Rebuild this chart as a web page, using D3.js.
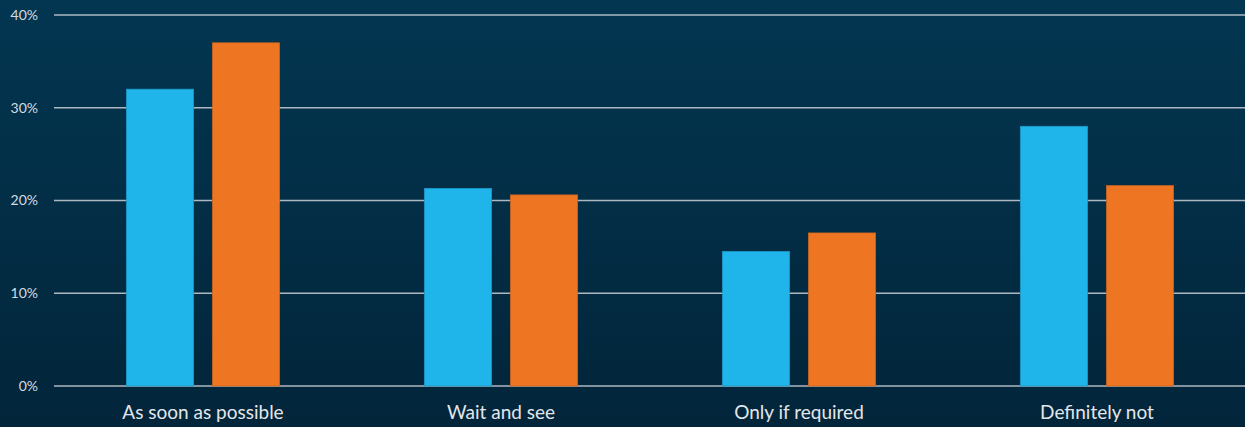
<!DOCTYPE html>
<html>
<head>
<meta charset="utf-8">
<script src="https://cdn.jsdelivr.net/npm/d3@7"></script>
<style>
  html, body { margin: 0; padding: 0; background: #022a40; }
  svg { display: block; }
</style>
</head>
<body>
<svg id="chart" width="1245" height="427"></svg>
<script>
// Answers by category, two survey series (percent)
const categories = ["As soon as possible", "Wait and see", "Only if required", "Definitely not"];
const seriesNames = ["Series A", "Series B"];
const seriesA = [32.0, 21.3, 14.5, 28.0];
const seriesB = [37.0, 20.6, 16.5, 21.6];
const yTicks = [0, 10, 20, 30, 40];
const colors = ["#1fb4ea", "#ee7622"];

const W = 1245, H = 427;
const margin = { top: 15, right: -1, bottom: 41, left: 54 };
const svg = d3.select("#chart");

// Background gradient
const defs = svg.append("defs");
const grad = defs.append("linearGradient").attr("id", "bg").attr("x1", 0).attr("y1", 0).attr("x2", 0).attr("y2", 1);
grad.append("stop").attr("offset", "0%").attr("stop-color", "#033651");
grad.append("stop").attr("offset", "100%").attr("stop-color", "#02253a");
svg.append("rect").attr("width", W).attr("height", H).attr("fill", "url(#bg)");

const x0 = d3.scaleBand().domain(categories)
  .range([margin.left, W - margin.right]).paddingInner(0).paddingOuter(0);
const y = d3.scaleLinear().domain([0, 40]).range([H - margin.bottom, margin.top]);

// Gridlines
const grid = svg.append("g");
grid.selectAll("line").data(yTicks).join("line")
  .attr("x1", margin.left).attr("x2", W)
  .attr("y1", d => y(d)).attr("y2", d => y(d))
  .attr("stroke", "#aeb8c0").attr("stroke-width", 1.4);

// Y labels
svg.append("g").selectAll("text").data(yTicks).join("text")
  .attr("x", 38).attr("y", d => y(d))
  .attr("dy", "0.35em")
  .attr("text-anchor", "end")
  .attr("fill", "#d4dbe0")
  .attr("font-family", "Lato, 'Open Sans', sans-serif")
  .attr("font-size", 14)
  .text(d => d + "%");

// Bars within each category
const groupWidth = 153;
const x1 = d3.scaleBand().domain(seriesNames).range([0, groupWidth]).paddingInner(19 / 86);

const rows = categories.map((c, i) => ({ cat: c, vals: [seriesA[i], seriesB[i]] }));
const groups = svg.append("g").selectAll("g").data(rows).join("g")
  .attr("transform", d => `translate(${x0(d.cat) + (x0.bandwidth() - groupWidth) / 2},0)`);

groups.selectAll("rect").data(d => d.vals.map((v, j) => ({ v, s: seriesNames[j], j })))
  .join("rect")
  .attr("x", d => x1(d.s))
  .attr("width", x1.bandwidth())
  .attr("y", d => y(d.v))
  .attr("height", d => y(0) - y(d.v))
  .attr("fill", d => colors[d.j])
  .attr("stroke", d => d3.color(colors[d.j]).darker(0.4))
  .attr("stroke-width", 0.8);

// Category labels
svg.append("g").selectAll("text").data(categories).join("text")
  .attr("x", d => x0(d) + x0.bandwidth() / 2)
  .attr("y", 419)
  .attr("text-anchor", "middle")
  .attr("fill", "#e2e6ea")
  .attr("font-family", "Lato, 'Open Sans', sans-serif")
  .attr("font-size", 19)
  .text(d => d);
</script>
</body>
</html>
